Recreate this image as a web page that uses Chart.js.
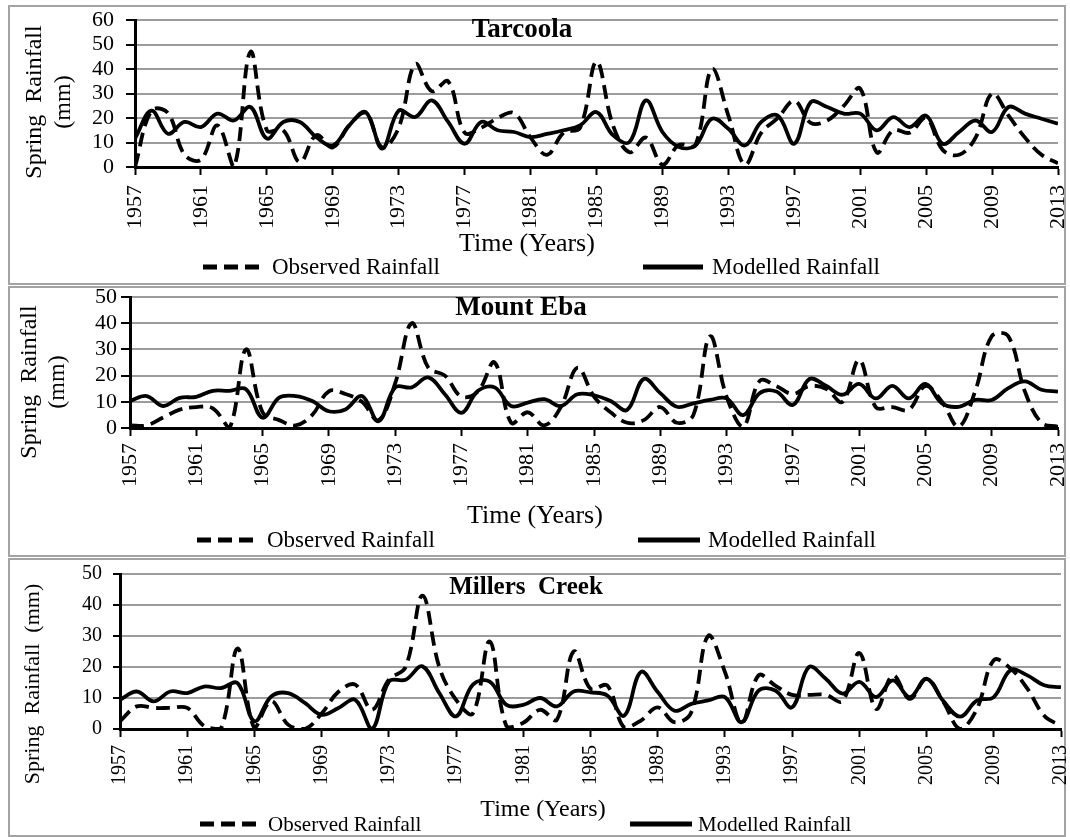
<!DOCTYPE html>
<html><head><meta charset="utf-8">
<script src="https://cdn.jsdelivr.net/npm/chart.js@4.4.1/dist/chart.umd.min.js"></script>
<style>
html,body{margin:0;padding:0;background:#fff;overflow:hidden;}
.panel{position:absolute;left:8px;width:1054px;border:2px solid #a3a3a3;background:#fff;}
.panel canvas{display:block;position:absolute;left:0;top:0;}
</style></head><body>
<div class="panel" style="top:5px;height:276px"><canvas id="c1" width="1064" height="276"></canvas></div>
<div class="panel" style="top:286px;height:267px"><canvas id="c2" width="1064" height="267"></canvas></div>
<div class="panel" style="top:558px;height:275px"><canvas id="c3" width="1064" height="275"></canvas></div>
<script>
// ---------- DATA ----------
const YEARS = [1957,1958,1959,1960,1961,1962,1963,1964,1965,1966,1967,1968,1969,1970,1971,1972,1973,1974,1975,1976,1977,1978,1979,1980,1981,1982,1983,1984,1985,1986,1987,1988,1989,1990,1991,1992,1993,1994,1995,1996,1997,1998,1999,2000,2001,2002,2003,2004,2005,2006,2007,2008,2009,2010,2011,2012,2013];
const X_TICK_LABELS = [1957,1961,1965,1969,1973,1977,1981,1985,1989,1993,1997,2001,2005,2009,2013];
const SERIES_NAMES = ['Observed Rainfall', 'Modelled Rainfall'];

const TARCOOLA_OBSERVED = [0,23,22,5,3,17,0,47,15,15, 2,13,8,17,22,8,16,42,31,35, 14,16,20,22,12,5,14,16,43,17, 6,12,1,9,9,40,21,1,14,20, 27,18,19,25,32,6,15,14,20,7, 5,12,30,21,12,5,1.5];
const TARCOOLA_MODELLED = [11.6,23,13.6,18.4,16.3,21.8,19,24.5,11.6,18.4, 18.4,12.2,8.8,17,22.4,7.5,23,20.4,27.2,18.4, 9.5,18.4,15,14.3,12.2,13.5,15,17,22.4,13, 10.2,27.2,14.3,8.2,8.8,19.7,15.6,8.8,18.4,21, 9.5,26.5,24.5,21.8,21.8,15,20.4,16.3,21,9.5, 14.3,19,14.3,24.5,21.8,19.7,17.7];

const MOUNT_EBA_OBSERVED = [1,1,4,7,8,7.5,0,30,6,3, 1,5,14,13,10,3,17,40,23,20, 12,14,25,2,6,1,8,23,12,6, 2,3,8,2,5,35,12,0.5,18,16, 13,16,15,10,26,8,8,7,16,10, 0.5,14,35,35,14,2,0.5];
const MOUNT_EBA_MODELLED = [10.3,12.2,8.4,11.5,11.9,14.2,14.2,14.8,3.9,11.6, 12.2,10.3,6.4,7.1,12.2,2.6,15.5,15.5,19.3,12.9, 5.8,14.2,15.5,8.4,9.7,11,8.4,12.9,12.5,10.3, 6.9,18.7,13.3,8.1,9.4,10.7,11.3,4.9,13.3,13.9, 8.8,18.7,16.1,12.7,16.8,11.3,16.1,11.3,16.8,9.4, 8.1,10.7,10.7,15.2,17.8,14.6,13.9];

const MILLERS_OBSERVED = [2.5,7.3,6.8,6.8,6.8,1,0,26,0.3,9, 1.4,0,5,12,14.3,6.2,15.9,20,43,20, 9.4,5,28.2,0.9,2,6.2,3,25,13,14, 0.5,2.7,7,2.2,5.4,30,18.4,2,17.3,14, 11,11,11,9,24.5,6.5,17.3,9.7,16.2,8.7, 0,6.5,22.2,19.5,13,4.3,1];
const MILLERS_MODELLED = [9.4,12.1,8.9,12.1,11.6,13.7,13.2,14.8,2.5,10.5, 11.6,8.4,4.6,6.8,9.4,0,15.3,15.9,20.2,11.6, 4.1,14.3,15.3,7.8,7.8,10,7.3,12.1,11.8,10.8, 4.3,18.4,11.9,5.9,8.1,9.2,10.3,2.2,12.4,12.4, 7,20,16.2,11.4,15.2,10.3,15.7,10.3,16.2,9, 4,9.2,10.3,19,17.3,14.1,13.5];

// ---------- STYLE / LAYOUT ----------
const FONT = '"Liberation Serif", "Times New Roman", serif';

const panelText = {
  id: 'panelText',
  afterDraw(chart, args, o) {
    const ctx = chart.ctx;
    ctx.save();
    ctx.fillStyle = '#000';
    ctx.textBaseline = 'middle';
    ctx.textAlign = 'center';
    ctx.font = 'bold ' + o.station.size + 'px ' + FONT;
    ctx.fillText(o.station.text, o.station.x, o.station.y);
    ctx.font = o.xTitle.size + 'px ' + FONT;
    ctx.fillText(o.xTitle.text, o.xTitle.x, o.xTitle.y);
    ctx.font = o.yTitle.size + 'px ' + FONT;
    o.yTitle.lines.forEach((line, i) => {
      ctx.save();
      ctx.translate(o.yTitle.x[i], o.yTitle.y);
      ctx.rotate(-Math.PI / 2);
      ctx.fillText(line, 0, 0);
      ctx.restore();
    });
    const L = o.legend;
    ctx.font = L.size + 'px ' + FONT;
    ctx.textAlign = 'left';
    chart.data.datasets.forEach((ds, i) => {
      const x0 = L.xs[i];
      ctx.save();
      ctx.strokeStyle = '#000';
      ctx.lineWidth = L.lineWidth;
      ctx.setLineDash(ds.borderDash || []);
      ctx.beginPath();
      ctx.moveTo(x0, L.y);
      ctx.lineTo(x0 + L.sampleW, L.y);
      ctx.stroke();
      ctx.restore();
      ctx.fillText(ds.label, x0 + L.sampleW + L.gap, L.y + 1);
    });
    ctx.restore();
  }
};

function makeChart(id, observed, modelled, yMax, lay) {
  const toPts = arr => YEARS.map((yr, i) => ({ x: yr, y: arr[i] }));
  return new Chart(document.getElementById(id), {
    type: 'line',
    data: {
      datasets: [
        { label: SERIES_NAMES[0], data: toPts(observed), borderColor: '#000', borderWidth: 3.8,
          borderDash: [14, 7], pointRadius: 0, tension: 0.38, fill: false },
        { label: SERIES_NAMES[1], data: toPts(modelled), borderColor: '#000', borderWidth: 3.8,
          pointRadius: 0, tension: 0.38, fill: false }
      ]
    },
    options: {
      responsive: false, animation: false, devicePixelRatio: 1,
      layout: { autoPadding: false, padding: lay.padding },
      plugins: { legend: { display: false }, tooltip: { enabled: false }, panelText: lay.text },
      scales: {
        x: {
          type: 'linear', min: YEARS[0], max: YEARS[YEARS.length - 1],
          afterBuildTicks: s => { s.ticks = X_TICK_LABELS.map(v => ({ value: v })); },
          afterFit: s => { s.height = lay.xHeight; },
          ticks: { callback: v => String(v), autoSkip: false, minRotation: 90, maxRotation: 90,
                   color: '#000', font: { family: FONT, size: lay.xTickSize, lineHeight: 0.1 }, padding: lay.xTickPad },
          grid: { drawOnChartArea: false, drawTicks: true, tickLength: 8, tickColor: '#000', tickWidth: 2 },
          border: { color: '#000', width: 3 }
        },
        y: {
          min: 0, max: yMax,
          afterFit: s => { s.width = lay.yWidth; },
          ticks: { stepSize: 10, autoSkip: false, color: '#000',
                   font: { family: FONT, size: lay.yTickSize, lineHeight: 0.1 }, padding: lay.yTickPad },
          grid: { color: '#9c9c9c', lineWidth: 2, tickColor: '#000', tickLength: lay.yTickLen, tickWidth: 2 },
          border: { color: '#000', width: 3 }
        }
      }
    },
    plugins: [panelText]
  });
}

makeChart('c1', TARCOOLA_OBSERVED, TARCOOLA_MODELLED, 60, {
  padding: { left: 0, right: 16, top: 13, bottom: 46 }, xHeight: 70, yWidth: 125,
  xTickSize: 22, xTickPad: 10, yTickSize: 22, yTickPad: 12, yTickLen: 9,
  text: {
    station: { text: 'Tarcoola', x: 512, y: 23, size: 27 },
    xTitle: { text: 'Time (Years)', x: 517, y: 237, size: 26 },
    yTitle: { lines: ['Spring  Rainfall', '(mm)'], x: [25, 54], y: 95, size: 24 },
    legend: { y: 260, xs: [193, 633], sampleW: 60, gap: 9, size: 23, lineWidth: 5 }
  }
});

makeChart('c2', MOUNT_EBA_OBSERVED, MOUNT_EBA_MODELLED, 50, {
  padding: { left: 0, right: 16, top: 9, bottom: 57 }, xHeight: 70, yWidth: 120,
  xTickSize: 22, xTickPad: 7, yTickSize: 22, yTickPad: 4, yTickLen: 9,
  text: {
    station: { text: 'Mount Eba', x: 511, y: 20, size: 27 },
    xTitle: { text: 'Time (Years)', x: 525, y: 228, size: 26 },
    yTitle: { lines: ['Spring  Rainfall', '(mm)'], x: [20, 48], y: 94, size: 24 },
    legend: { y: 252, xs: [187, 628], sampleW: 62, gap: 8, size: 23, lineWidth: 5 }
  }
});

makeChart('c3', MILLERS_OBSERVED, MILLERS_MODELLED, 50, {
  padding: { left: 0, right: 13, top: 14, bottom: 46 }, xHeight: 60, yWidth: 110,
  xTickSize: 20, xTickPad: 8, yTickSize: 20, yTickPad: 11, yTickLen: 7,
  text: {
    station: { text: 'Millers  Creek', x: 516, y: 28, size: 25 },
    xTitle: { text: 'Time (Years)', x: 533, y: 250, size: 24 },
    yTitle: { lines: ['Spring  Rainfall  (mm)'], x: [23], y: 124, size: 22 },
    legend: { y: 264, xs: [190, 620], sampleW: 62, gap: 6, size: 21, lineWidth: 5 }
  }
});
</script>
</body></html>
